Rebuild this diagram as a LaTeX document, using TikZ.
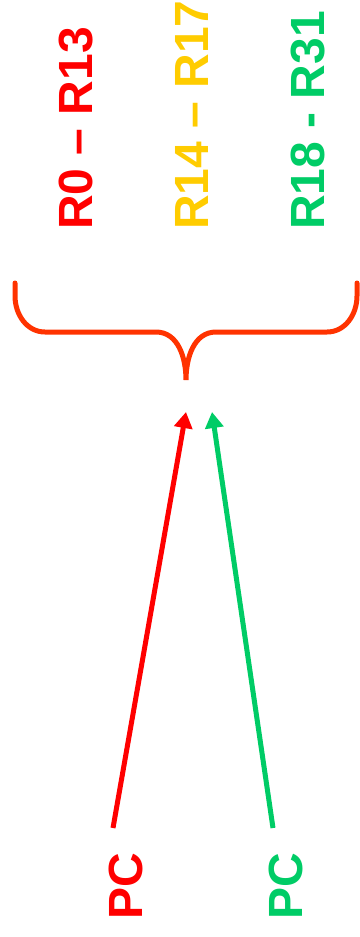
\documentclass[tikz,border=0pt]{standalone}
\usepackage{fontspec}
\setmainfont{Liberation Sans}
\usetikzlibrary{arrows.meta,calc}
\definecolor{regred}{RGB}{255,0,0}
\definecolor{reggold}{RGB}{255,204,0}
\definecolor{reggreen}{RGB}{0,204,102}
\definecolor{bracered}{RGB}{255,51,0}
\tikzset{
  reglabel/.style = {rotate=90, anchor=base west, inner sep=0pt,
                     font=\fontsize{48}{48}\selectfont\bfseries},
  flow/.style     = {line width=5pt, -{Triangle[length=16pt,width=18pt]}},
  brace/.style    = {draw=bracered, line width=5pt, line cap=round},
}
\begin{document}
\begin{tikzpicture}[x=1pt,y=1pt]
\useasboundingbox (0,0) rectangle (359,-937);
% register groups
\node[reglabel, text=regred]   (grpa) at (92,-230)  {R0 -- R13};
\node[reglabel, text=reggold]  (grpb) at (208,-230) {R14 -- R17};
\node[reglabel, text=reggreen] (grpc) at (324,-230) {R18 - R31};
% brace under the groups
\coordinate (tip) at (186,-380);
\draw[brace] (15,-283) -- (15,-296) to[out=-90,in=180] (45,-332) -- (156,-332)
  to[out=0,in=90] (tip) to[out=90,in=180] (216,-332) -- (327,-332)
  to[out=0,in=-90] (357,-296) -- (357,-283);
% program counters
\node[reglabel, text=regred]   (pca) at (142,-920) {PC};
\node[reglabel, text=reggreen] (pcb) at (302,-920) {PC};
\coordinate (taila) at (113,-828);
\coordinate (tailb) at (273,-828);
\coordinate (heada) at (186,-412);
\coordinate (headb) at (212,-412);
\draw[flow, regred]   (taila) -- (heada);
\draw[flow, reggreen] (tailb) -- (headb);
\end{tikzpicture}
\end{document}
